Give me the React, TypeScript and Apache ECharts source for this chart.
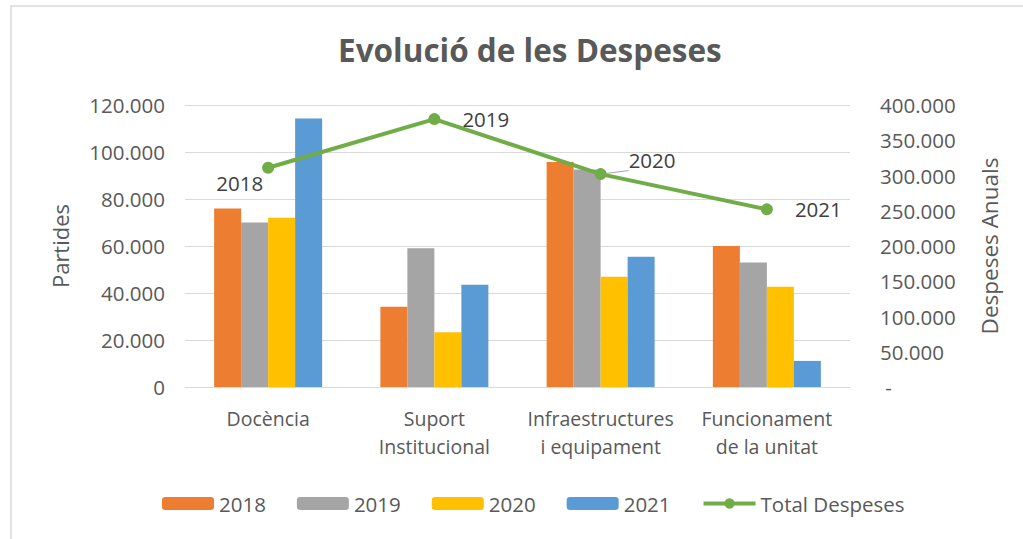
import React, { useEffect, useRef } from "react";
import * as echarts from "echarts";

const categories = ["Docència", "Suport\nInstitucional", "Infraestructures\ni equipament", "Funcionament\nde la unitat"];
const years = ["2018", "2019", "2020", "2021"];
const v2018 = [76000, 34200, 95700, 60000];
const v2019 = [70000, 59000, 92600, 53000];
const v2020 = [72000, 23300, 46900, 42700];
const v2021 = [114300, 43500, 55400, 11100];
const totals = [311000, 380000, 302000, 252000];
const leftTicks = { min: 0, max: 120000, interval: 20000 };
const rightTicks = { min: 0, max: 400000, interval: 50000 };

const colors = ["#ED7D31", "#A5A5A5", "#FFC000", "#5B9BD5"];
const green = "#70AD47";
const FONT = "Open Sans";

const fmt = (v: number) => (v === 0 ? "0" : v.toLocaleString("de-DE"));

export default function App() {
  const ref = useRef<HTMLDivElement>(null);
  useEffect(() => {
    if (!ref.current) return;
    const chart = echarts.init(ref.current, undefined, { renderer: "svg" });
    const barData = [v2018, v2019, v2020, v2021];
    const labelPos: any[] = [
      { position: "left", offset: [6, 15] },
      { position: "right", distance: 22 },
      { position: "right", distance: 22, offset: [0, -14] },
      { position: "right", distance: 22 },
    ];
    chart.setOption({
      animation: false,
      textStyle: { fontFamily: FONT },
      title: {
        text: "Evolució de les Despeses",
        left: 333,
        top: 28,
        textStyle: { fontFamily: FONT, fontSize: 31.5, fontWeight: "bold", color: "#595959" },
      },
      graphic: [
        {
          type: "rect",
          shape: { x: 11, y: 6, width: 1040, height: 560 },
          style: { fill: "none", stroke: "#d9d9d9", lineWidth: 1.5 },
          silent: true,
        },
      ],
      legend: {
        left: 157,
        top: 488,
        itemWidth: 52,
        itemHeight: 13,
        itemGap: 31,
        textStyle: { fontFamily: FONT, fontSize: 20.5, color: "#595959" },
        data: [
          ...years,
          { name: "Total Despeses", lineStyle: { width: 4 } },
        ],
      },
      grid: { left: 185, right: 173, top: 105, bottom: 152 },
      xAxis: {
        type: "category",
        data: categories,
        axisLine: { lineStyle: { color: "#d9d9d9" } },
        axisTick: { show: false },
        axisLabel: { fontFamily: FONT, fontSize: 19.5, color: "#595959", margin: 17, lineHeight: 28, interval: 0 },
      },
      yAxis: [
        {
          type: "value",
          ...leftTicks,
          name: "Partides",
          nameLocation: "middle",
          nameGap: 114,
          nameTextStyle: { fontFamily: FONT, fontSize: 22, color: "#595959" },
          axisLabel: { fontFamily: FONT, fontSize: 20.5, color: "#595959", margin: 20, formatter: fmt },
          splitLine: { lineStyle: { color: "#d9d9d9" } },
          axisLine: { show: false },
          axisTick: { show: false },
        },
        {
          type: "value",
          ...rightTicks,
          name: "Despeses Anuals",
          nameLocation: "middle",
          nameGap: 128,
          nameTextStyle: { fontFamily: FONT, fontSize: 22.5, color: "#595959" },
          axisLabel: {
            fontFamily: FONT,
            fontSize: 20.5,
            color: "#595959",
            margin: 30,
            formatter: (v: number) => (v === 0 ? " -" : fmt(v)),
          },
          splitLine: { show: false },
          axisLine: { show: false },
          axisTick: { show: false },
        },
      ],
      series: [
        ...years.map((y, i) => ({
          name: y,
          type: "bar",
          data: barData[i],
          itemStyle: { color: colors[i] },
          barWidth: 27,
          barGap: "0%",
          yAxisIndex: 0,
        })),
        {
          name: "Total Despeses",
          type: "line",
          yAxisIndex: 1,
          data: totals.map((v, i) => ({
            value: v,
            label: { show: true, formatter: years[i], ...labelPos[i] },
            labelLine: i === 2 ? { show: true, lineStyle: { color: "#a6a6a6", width: 1 } } : undefined,
          })),
          lineStyle: { color: green, width: 4 },
          itemStyle: { color: green },
          symbol: "circle",
          symbolSize: 12,
          label: { fontFamily: FONT, fontSize: 20.5, color: "#404040" },
          z: 5,
        },
      ],
    });
    return () => chart.dispose();
  }, []);
  return (
    <div
      ref={ref}
      style={{ position: "fixed", left: 0, top: 0, width: 1023, height: 539, background: "#fff" }}
    />
  );
}
